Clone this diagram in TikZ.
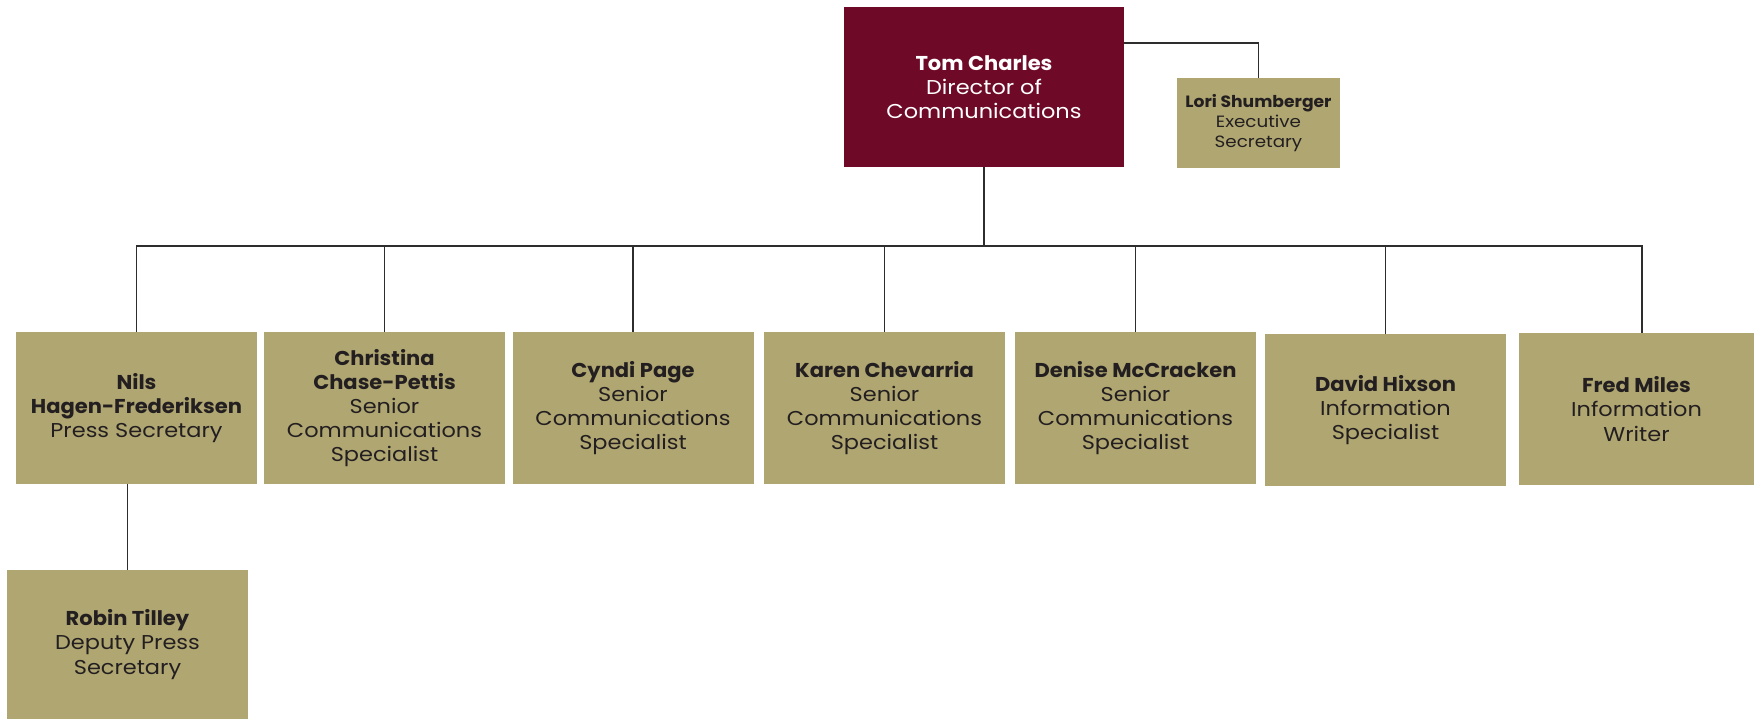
\documentclass[tikz,border=0pt]{standalone}
\usepackage{fontspec}
\setmainfont{Poppins}[FakeStretch=1.12,BoldFeatures={FakeStretch=1.05}]
\definecolor{weinrot}{RGB}{110,10,40}
\definecolor{oliv}{RGB}{176,166,114}
\definecolor{linie}{RGB}{45,45,45}
\definecolor{schrift}{RGB}{35,31,32}
\tikzset{
	chef/.style={fill=weinrot,text=white,minimum width=5.6cm,minimum height=3.2cm,align=center,inner sep=0pt,font=\fontsize{11.4}{13.7}\selectfont},
	mitarbeiter/.style={fill=oliv,text=schrift,minimum width=4.82cm,minimum height=3.04cm,align=center,inner sep=0pt,font=\fontsize{11.4}{13.7}\selectfont},
	verbindung/.style={draw=linie,line width=1.1pt}
}
\begin{document}
\begin{tikzpicture}
		\useasboundingbox (0,0) rectangle (35.08,-14.38);
		%Leitung
		\node [chef] (tom) at (19.68,-1.74) {\textbf{Tom Charles}\\Director of\\Communications};
		\node [mitarbeiter,minimum width=3.26cm,minimum height=1.8cm,font=\fontsize{9.3}{11.4}\selectfont] (lori) at (25.17,-2.46) {\textbf{Lori Shumberger}\\Executive\\Secretary};
		%Mitarbeiter
		\node [mitarbeiter] (nils) at (2.73,-8.16) {\textbf{Nils}\\\textbf{Hagen-Frederiksen}\\Press Secretary};
		\node [mitarbeiter] (christina) at (7.69,-8.16) {\textbf{Christina}\\\textbf{Chase-Pettis}\\Senior\\Communications\\Specialist};
		\node [mitarbeiter] (cyndi) at (12.66,-8.16) {\textbf{Cyndi Page}\\Senior\\Communications\\Specialist};
		\node [mitarbeiter] (karen) at (17.69,-8.16) {\textbf{Karen Chevarria}\\Senior\\Communications\\Specialist};
		\node [mitarbeiter] (denise) at (22.71,-8.16) {\textbf{Denise McCracken}\\Senior\\Communications\\Specialist};
		\node [mitarbeiter] (david) at (27.71,-8.2) {\textbf{David Hixson}\\Information\\Specialist};
		\node [mitarbeiter,minimum width=4.7cm] (fred) at (32.73,-8.18) {\textbf{Fred Miles}\\Information\\Writer};
		\node [mitarbeiter,minimum height=2.98cm] (robin) at (2.55,-12.89) {\textbf{Robin Tilley}\\Deputy Press\\Secretary};
		%Linien
		\coordinate (bus) at (19.68,-4.92);
		\draw [verbindung] (tom.south) -- (bus);
		\draw [verbindung] ([yshift=0.88cm]tom.east) -| (lori.north);
		\foreach \n in {nils,christina,cyndi,karen,denise,david}
			\draw [verbindung] (\n.north) |- (bus);
		\draw [verbindung] ([xshift=0.11cm]fred.north) |- (bus);
		\draw [verbindung] (robin.north) -- (robin.north |- nils.south);
\end{tikzpicture}
\end{document}
